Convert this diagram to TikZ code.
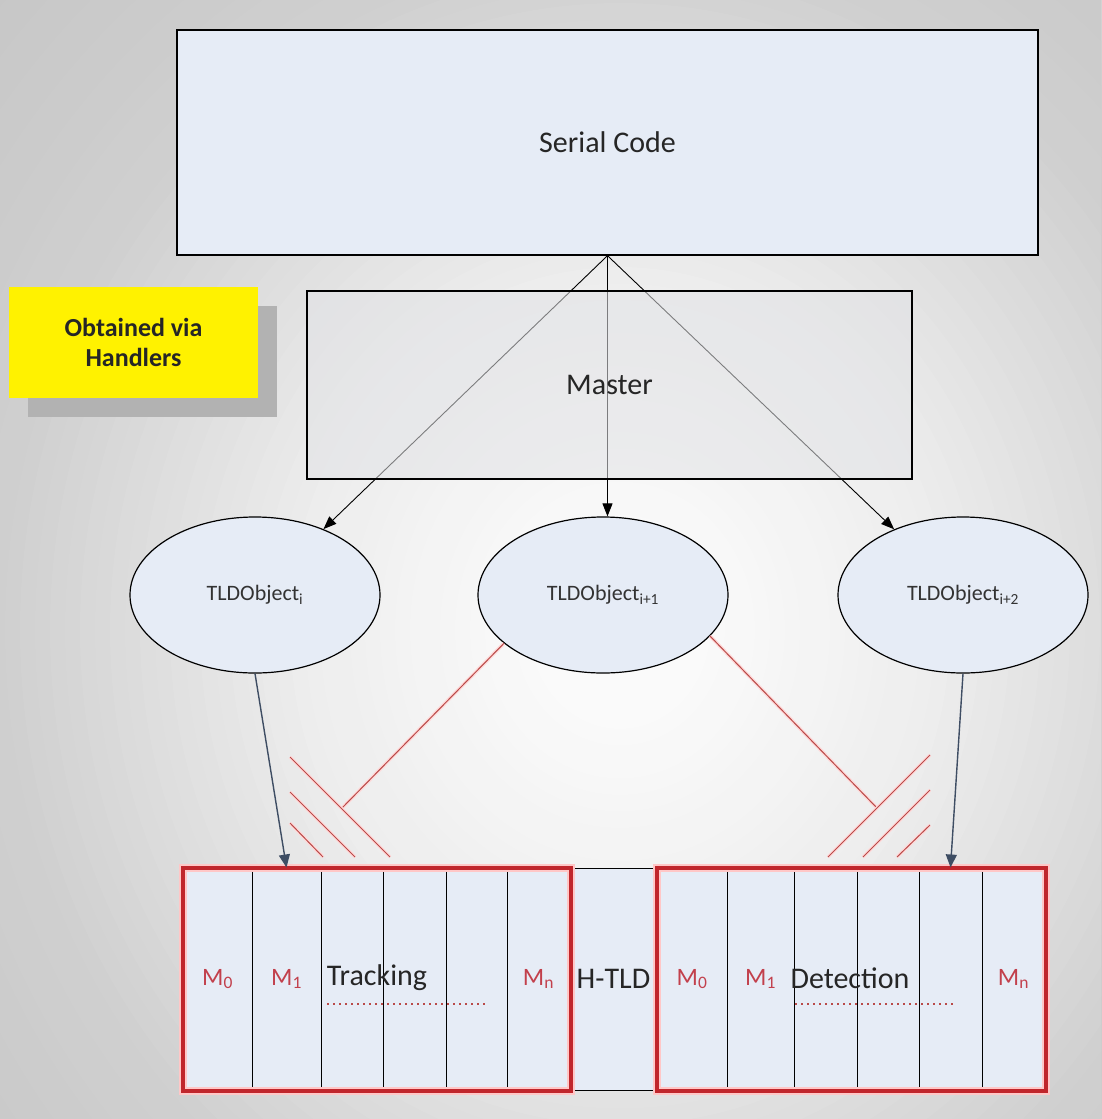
\documentclass[tikz,border=0pt]{standalone}
\usepackage{fontspec}
\setmainfont{Carlito}
\usetikzlibrary{arrows.meta,shapes.geometric,shadows}

\definecolor{boxfill}{HTML}{E6ECF6}
\definecolor{masterfill}{HTML}{E2E3E6}
\definecolor{framered}{HTML}{C0262C}
\definecolor{linkred}{HTML}{B94A48}
\definecolor{labelred}{HTML}{C2404C}
\definecolor{slate}{HTML}{3E4D63}

\begin{document}
\begin{tikzpicture}[x=1pt,y=-1pt,
  box/.style={draw=black, line width=1.3pt, fill=boxfill, inner sep=0pt},
  big/.style={font=\fontsize{30}{36}\selectfont, text=black!85},
  obj/.style={ellipse, draw=black, line width=1.2pt, fill=boxfill,
    minimum width=250pt, minimum height=156pt, inner sep=0pt,
    font=\fontsize{22}{26}\selectfont, text=black!80},
  cell/.style={draw=black, line width=1pt, fill=boxfill,
    minimum height=222pt, inner sep=0pt},
  link/.style={-{Triangle[length=13pt,width=10pt]}, line width=0.9pt, draw=black},
  tie/.style={-{Triangle[length=13pt,width=11pt]}, draw=slate, line width=1.4pt},
  redline/.style={draw=linkred, line width=1pt, preaction={draw=red!15, line width=3.5pt}},
  frame/.style={draw=framered, line width=4pt, preaction={draw=red!22, line width=8pt}},
  mlabel/.style={text=labelred, font=\fontsize{25}{30}\selectfont},
  dotrow/.style={draw=linkred, line width=1.4pt, dash pattern=on 2pt off 4pt}
]
\useasboundingbox (0,0) rectangle (1101,1119);

% background: grey sheet brightening towards the middle
\begin{scope}
  \clip (0,0) rectangle (1101,1119);
  \foreach \r in {900,885,...,30} {
    \pgfmathsetmacro\ga{max(0,min(1,(\r-100)/220))}
    \pgfmathsetmacro\gb{max(0,min(1,(\r-320)/300))}
    \pgfmathsetmacro\gc{max(0,min(1,(\r-620)/280))}
    \pgfmathtruncatemacro\g{250-12*\ga-30*\gb-10*\gc}
    \pgfmathsetmacro\ry{1.1*\r}
    \definecolor{ring}{RGB}{\g,\g,\g}
    \fill[ring] (620,630) ellipse [x radius=\r, y radius=\ry];
  }
\end{scope}

% note box
\node[fill=yellow, minimum width=249pt, minimum height=111pt, inner sep=0pt,
      align=center, font=\bfseries\fontsize{26}{30}\selectfont, text=black!85,
      drop shadow={shadow xshift=19pt, shadow yshift=-19pt, fill=black!30, opacity=1}]
      (note) at (133.5,342.5) {Obtained via\\Handlers};

% serial part
\node[box, minimum width=861pt, minimum height=225pt, big] (sc) at (607.5,142.5) {Serial Code};

% tracked objects
\node[obj] (lo) at (255,595) {TLDObject\textsubscript{i}};
\node[obj] (mo) at (603,595) {TLDObject\textsubscript{i+1}};
\node[obj] (ro) at (963,595) {TLDObject\textsubscript{i+2}};

\draw[link] (sc.south) -- (lo);
\draw[link] (sc.south) -- (sc.south |- mo.north);
\draw[link] (sc.south) -- (ro);

% master, laid over the arrows
\node[box, fill=masterfill, fill opacity=0.55, text opacity=1,
      minimum width=605pt, minimum height=188pt, big] (ma) at (609.5,385) {Master};

% module cells
\foreach \n/\a/\b in {l0/183/252, l1/252/321, l2/321/383, l3/383/446, l4/446/507,
                      l5/507/570, hm/570/657, r0/657/727, r1/727/794, r2/794/857,
                      r3/857/919, r4/919/982, r5/982/1045}
  \node[cell, minimum width={\b-\a}] (\n) at ({(\a+\b)/2},979) {};

\node[big] (htld) at (hm) {H-TLD};
\node[big] (trk) at (377,978) {Tracking};
\node[big] (det) at (850,978) {Detection};

\node[mlabel] at (l0) {M\textsubscript{0}};
\node[mlabel] at (l1) {M\textsubscript{1}};
\node[mlabel] at (l5) {M\textsubscript{n}};
\node[mlabel] at (r0) {M\textsubscript{0}};
\node[mlabel] at (r1) {M\textsubscript{1}};
\node[mlabel] at (r5) {M\textsubscript{n}};

\draw[dotrow] (327,1004) -- (485,1004);
\draw[dotrow] (795,1004) -- (953,1004);

\draw[frame] (l0.north west) rectangle (l5.south east);
\draw[frame] (r0.north west) rectangle (r5.south east);

% object to module arrows
\draw[tie] (lo.south) -- (l1.north);
\draw[tie] (ro.south) -- (r4.north);

% red links with hatched ends
\coordinate (jl) at (342,808);
\coordinate (jr) at (877,808);
\draw[redline] (mo.206.6) -- (jl);
\draw[redline] (mo.339) -- (jr);

\draw[redline] (290,757) -- (390,857);
\draw[redline] (290,792) -- (355,857);
\draw[redline] (290,823) -- (323,857);

\draw[redline] (930,755) -- (828,857);
\draw[redline] (930,790) -- (863,857);
\draw[redline] (930,825) -- (897,857);
\end{tikzpicture}
\end{document}
